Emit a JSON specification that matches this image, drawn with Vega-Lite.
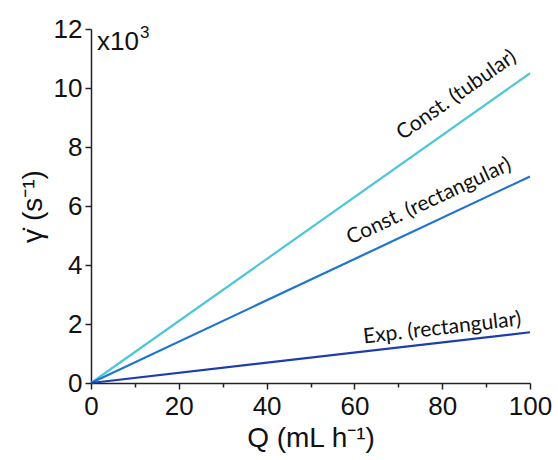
{
  "$schema": "https://vega.github.io/schema/vega-lite/v6.json",
  "autosize": {"type": "none"},
  "padding": {"left": 91, "top": 29, "right": 28, "bottom": 77},
  "width": 439,
  "height": 354,
  "background": "white",
  "config": {
    "view": {"stroke": null},
    "axis": {
      "grid": false,
      "domainColor": "#222222",
      "domainWidth": 1.5,
      "tickColor": "#222222",
      "tickWidth": 1.5,
      "labelFont": "Liberation Sans",
      "labelFontSize": 26,
      "labelColor": "#111111",
      "titleFont": "Liberation Sans",
      "titleFontSize": 28,
      "titleFontWeight": "normal",
      "titleColor": "#111111"
    }
  },
  "datasets": {
    "lines": [
      {"series": "Const. (tubular)", "Q": 0, "rate": 0},
      {"series": "Const. (tubular)", "Q": 100, "rate": 10.5},
      {"series": "Const. (rectangular)", "Q": 0, "rate": 0},
      {"series": "Const. (rectangular)", "Q": 100, "rate": 7.0},
      {"series": "Exp. (rectangular)", "Q": 0, "rate": 0},
      {"series": "Exp. (rectangular)", "Q": 100, "rate": 1.72}
    ],
    "labels": [
      {"label": "Const. (tubular)", "Q": 83.3, "rate": 9.75},
      {"label": "Const. (rectangular)", "Q": 77.0, "rate": 6.15},
      {"label": "Exp. (rectangular)", "Q": 80.0, "rate": 1.85}
    ]
  },
  "layer": [
    {
      "data": {"name": "lines"},
      "mark": {"type": "line", "strokeWidth": 2.2},
      "encoding": {
        "x": {
          "field": "Q", "type": "quantitative",
          "scale": {"domain": [0, 100], "nice": false},
          "axis": {
            "title": "Q (mL h⁻¹)",
            "values": [0, 10, 20, 30, 40, 50, 60, 70, 80, 90, 100],
            "labelExpr": "datum.value % 20 == 0 ? datum.label : ''",
            "tickSize": {"condition": {"test": "datum.value % 20 != 0", "value": 4}, "value": 6},
            "labelPadding": 4,
            "titlePadding": 5,
            "labelFlush": false
          }
        },
        "y": {
          "field": "rate", "type": "quantitative",
          "scale": {"domain": [0, 12], "nice": false},
          "axis": {
            "title": "γ̇ (s⁻¹)",
            "values": [0, 1, 2, 3, 4, 5, 6, 7, 8, 9, 10, 11, 12],
            "labelExpr": "datum.value % 2 == 0 ? datum.label : ''",
            "tickSize": {"condition": {"test": "datum.value % 2 != 0", "value": 4}, "value": 6},
            "labelPadding": 3,
            "titlePadding": 6,
            "labelFlush": false
          }
        },
        "color": {
          "field": "series", "type": "nominal",
          "scale": {
            "domain": ["Const. (tubular)", "Const. (rectangular)", "Exp. (rectangular)"],
            "range": ["#4cc6d8", "#1f74cf", "#1c3dab"]
          },
          "legend": null
        }
      }
    },
    {
      "data": {"name": "labels"},
      "transform": [{"filter": "datum.label == 'Const. (tubular)'"}],
      "mark": {"type": "text", "font": "Lato", "fontSize": 21, "angle": -35, "align": "center", "baseline": "middle", "color": "#111111"},
      "encoding": {
        "x": {"field": "Q", "type": "quantitative"},
        "y": {"field": "rate", "type": "quantitative"},
        "text": {"field": "label"}
      }
    },
    {
      "data": {"name": "labels"},
      "transform": [{"filter": "datum.label == 'Const. (rectangular)'"}],
      "mark": {"type": "text", "font": "Lato", "fontSize": 21, "angle": -25, "align": "center", "baseline": "middle", "color": "#111111"},
      "encoding": {
        "x": {"field": "Q", "type": "quantitative"},
        "y": {"field": "rate", "type": "quantitative"},
        "text": {"field": "label"}
      }
    },
    {
      "data": {"name": "labels"},
      "transform": [{"filter": "datum.label == 'Exp. (rectangular)'"}],
      "mark": {"type": "text", "font": "Lato", "fontSize": 21, "angle": -6.5, "align": "center", "baseline": "middle", "color": "#111111"},
      "encoding": {
        "x": {"field": "Q", "type": "quantitative"},
        "y": {"field": "rate", "type": "quantitative"},
        "text": {"field": "label"}
      }
    },
    {
      "data": {"values": [{"Q": 0, "rate": 12, "t": "x10"}]},
      "mark": {"type": "text", "font": "Liberation Sans", "fontSize": 26, "align": "left", "baseline": "alphabetic", "dx": 6, "dy": 21, "color": "#111111"},
      "encoding": {
        "x": {"field": "Q", "type": "quantitative"},
        "y": {"field": "rate", "type": "quantitative"},
        "text": {"field": "t"}
      }
    },
    {
      "data": {"values": [{"Q": 0, "rate": 12, "t": "3"}]},
      "mark": {"type": "text", "font": "Liberation Sans", "fontSize": 17, "align": "left", "baseline": "alphabetic", "dx": 49, "dy": 9, "color": "#111111"},
      "encoding": {
        "x": {"field": "Q", "type": "quantitative"},
        "y": {"field": "rate", "type": "quantitative"},
        "text": {"field": "t"}
      }
    }
  ]
}
